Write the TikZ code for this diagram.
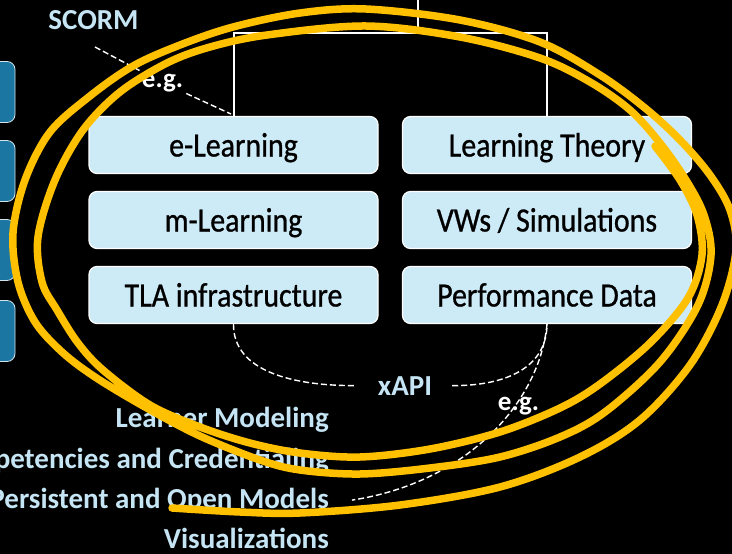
\documentclass[tikz,border=0pt]{standalone}
\usepackage{fontspec}
\setmainfont{Carlito}
\newfontfamily\boxfont{Carlito}[FakeStretch=0.88, FakeBold=0.8]
\definecolor{boxblue}{HTML}{CDEAF7}
\definecolor{lblblue}{HTML}{C6E5F4}
\definecolor{darkblue}{HTML}{1B77A1}
\definecolor{penyellow}{HTML}{FFC000}
\tikzset{
  lightbox/.style={draw=white, line width=1.2pt, fill=boxblue, rounded corners=8pt,
    minimum width=289pt, minimum height=57pt, inner sep=0pt, text height=23pt,
    text depth=0pt, font=\boxfont\fontsize{34}{40}\selectfont, text=black},
  darkbox/.style={draw=white!80!darkblue, line width=0.8pt, fill=darkblue,
    rounded corners=8pt, minimum width=120pt, minimum height=61pt},
  lbl/.style={text=lblblue, font=\fontsize{29}{34}\selectfont\bfseries, inner sep=0pt},
  eglbl/.style={text=white, font=\fontsize{27}{32}\selectfont\bfseries, inner sep=3pt},
  dashline/.style={white, line width=1.4pt, dash pattern=on 6pt off 3pt},
  bracketline/.style={white, line width=2pt},
  pen/.style={draw=penyellow, line width=7.5pt, line cap=round, line join=round}
}
\begin{document}
\begin{tikzpicture}[x=1pt,y=-1pt]
\fill[black] (0,0) rectangle (732,554);
\useasboundingbox (0,0) rectangle (732,554);
\clip (0,0) rectangle (732,554);

% left dark boxes (cut off)
\node[darkbox] (d1) at (-45,92) {};
\node[darkbox] (d2) at (-45,171) {};
\node[darkbox] (d3) at (-45,250) {};
\node[darkbox] (d4) at (-45,331) {};

% bracket
\coordinate (bt) at (418,33);
\coordinate (btop) at (418,-5);

% light boxes
\node[lightbox] (el) at (233.5,145) {e-Learning};
\node[lightbox] (ml) at (233.5,220) {m-Learning};
\node[lightbox] (tla) at (233.5,295) {TLA infrastructure};
\node[lightbox] (lt) at (547,145) {Learning Theory};
\node[lightbox] (vw) at (547,220) {VWs / Simulations};
\node[lightbox] (pd) at (547,295) {Performance Data};

\draw[bracketline] (el.north) |- (bt) -| (lt.north);
\draw[bracketline] (bt) -- (btop);

% SCORM
\node[lbl, anchor=base] (scorm) at (93.5,29.3) {SCORM};
\coordinate (s1) at (95,47);
\coordinate (s2) at (231,114);
\node[eglbl, anchor=base] (eg1) at (162.5,87) {e.g.};
\draw[dashline] (s1) -- (eg1) -- (s2);

% xAPI
\node[lbl, anchor=base] (xapi) at (405,395) {xAPI};
\draw[dashline] (tla.south) .. controls (233,372) and (295,386) .. ([xshift=-22pt]xapi.west);
\draw[dashline] ([xshift=20pt]xapi.east) .. controls (510,386) and (547,365) .. (pd.south);

% bottom labels
\node[lbl, anchor=base east] (lm) at (329,427) {Learner Modeling};
\node[lbl, anchor=base east] (cc) at (329,468) {Competencies and Credentialing};
\node[lbl, anchor=base east] (pom) at (329,508) {Persistent and Open Models};
\node[lbl, anchor=base east] (vis) at (329,548) {Visualizations};

\node[eglbl, anchor=base] (eg2) at (518.5,410) {e.g.};
\draw[dashline] (pd.south) .. controls (540,400) and (470,482) .. ([xshift=23pt]pom.east);

% freehand yellow loop
\draw[pen] plot[smooth, tension=0.55] coordinates {
(172,508) (240,512) (300,513) (400,505) (500,487) (580,457) (640,420) (690,365)
(722,305) (736,250) (730,210) (710,175) (680,140) (645,108) (600,75) (540,42)
(460,20) (366,9) (300,13) (233,27) (180,45) (133,66) (90,96) (50,132) (25,180)
(13,233) (18,282) (35,322) (62,352) (95,377) (145,407) (200,436) (260,460)
(300,470) (360,474) (430,468) (500,457) (560,437) (605,412) (660,362) (698,305)
(711,255) (704,215) (686,180) (660,143) (630,110) (590,82) (540,58) (460,37)
(366,26) (267,35) (210,47) (167,63) (120,92) (83,130) (55,180) (38,237) (42,282)
(57,310) (78,343) (103,370) (150,405) (200,427) (250,443) (300,453) (360,457)
(430,449) (500,432) (560,408) (600,384) (650,343) (688,298) (702,255) (697,215)
(680,180) (655,146)};
\end{tikzpicture}
\end{document}
